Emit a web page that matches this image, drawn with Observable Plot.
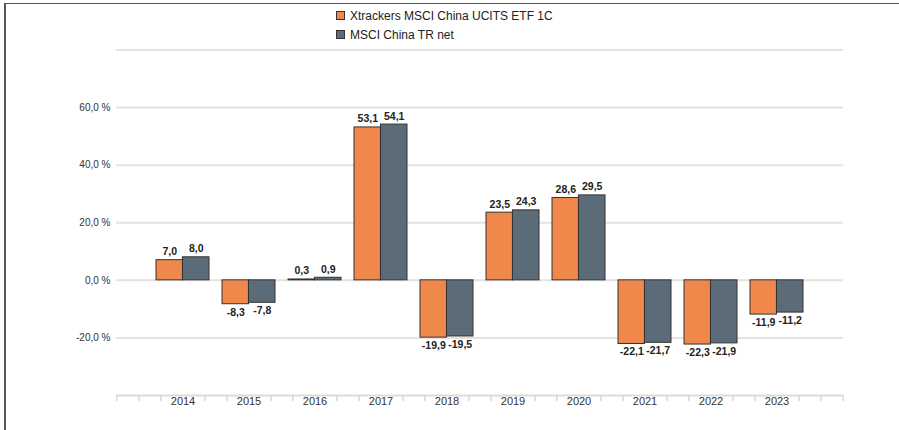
<!DOCTYPE html>
<html><head><meta charset="utf-8">
<script src="https://cdn.jsdelivr.net/npm/d3@7"></script>
<script src="https://cdn.jsdelivr.net/npm/@observablehq/plot@0.6"></script>
<style>
html,body{margin:0;padding:0;background:#fff;}
#wrap{position:relative;width:899px;height:430px;overflow:hidden;font-family:"Liberation Sans",Arial,sans-serif;}
#frame{position:absolute;left:4px;top:3px;right:-10px;bottom:-10px;border-left:2px solid #555;border-top:1px solid #555;}
#legend{position:absolute;left:336px;top:6px;font-size:12px;color:#222;}
.item{display:flex;align-items:center;height:19px;white-space:nowrap;}
.sw{width:9px;height:9px;border:1px solid #333;margin-right:5px;box-sizing:border-box;}
#chart{position:absolute;left:0;top:0;}
</style></head><body>
<div id="wrap"><div id="frame"></div><div id="chart"></div><div id="legend"></div></div>
<script>
const years = ["2014","2015","2016","2017","2018","2019","2020","2021","2022","2023"];
const etfValues = [7.0,-8.3,0.3,53.1,-19.9,23.5,28.6,-22.1,-22.3,-11.9];
const indexValues = [8.0,-7.8,0.9,54.1,-19.5,24.3,29.5,-21.7,-21.9,-11.2];
const seriesNames = ["Xtrackers MSCI China UCITS ETF 1C","MSCI China TR net"];
const seriesColors = ["#f0874b","#5c6b78"];
const yTickValues = [60,40,20,0,-20];
const gridValues = [80,60,40,20,0,-20];
const yDomain = [-40,80];

const W = 899, H = 430, mL = 116, mR = 56, mT = 49.5, mB = 35;
const pIn = 0.2, pOut = 0.6;
const step = (W - mL - mR) / (years.length - pIn + 2 * pOut);
const half = step * (1 - pIn) / 2;

const etf = years.map((year, i) => ({year, value: etfValues[i]}));
const idx = years.map((year, i) => ({year, value: indexValues[i]}));
const fmt = v => v.toFixed(1).replace(".", ",");

function labels(data, dx) {
  const common = {x: "year", y: "value", text: d => fmt(d.value), dx, fontSize: 10.5, fontWeight: "bold", fill: "#222"};
  return [
    Plot.text(data.filter(d => d.value >= 0), {...common, lineAnchor: "bottom", dy: -5}),
    Plot.text(data.filter(d => d.value < 0), {...common, lineAnchor: "top", dy: 4})
  ];
}

const tickDepth = 6 * (yDomain[1] - yDomain[0]) / (H - mT - mB);
const tickOpts = dx => ({x: d => d, y1: yDomain[0], y2: yDomain[0] - tickDepth, dx, stroke: "#dcd8d0", strokeWidth: 1.5});

const chart = Plot.plot({
  width: W, height: H,
  marginLeft: mL, marginRight: mR, marginTop: mT, marginBottom: mB,
  style: {fontFamily: "'Liberation Sans', Arial, sans-serif", background: "transparent"},
  x: {type: "band", domain: years, paddingInner: pIn, paddingOuter: pOut, axis: null},
  y: {domain: yDomain, axis: null},
  marks: [
    Plot.ruleY(gridValues, {stroke: "#e5e2dd", strokeWidth: 2}),
    Plot.ruleY([yDomain[0]], {stroke: "#e0dcd4", strokeWidth: 2}),
    Plot.ruleX(years, tickOpts(-step / 3)),
    Plot.ruleX(years, tickOpts(step / 3)),
    Plot.ruleX([years[0]], tickOpts(-2 * step / 3)),
    Plot.ruleX([years[0]], tickOpts(-step)),
    Plot.ruleX([years[years.length - 1]], tickOpts(2 * step / 3)),
    Plot.ruleX([years[years.length - 1]], tickOpts(step)),
    Plot.barY(etf, {x: "year", y: "value", fill: seriesColors[0], stroke: "#333", strokeWidth: 1, insetRight: half}),
    Plot.barY(idx, {x: "year", y: "value", fill: seriesColors[1], stroke: "#333", strokeWidth: 1, insetLeft: half}),
    ...labels(etf, -half / 2),
    ...labels(idx, half / 2),
    Plot.axisY({ticks: yTickValues, tickSize: 0, tickPadding: 6, tickFormat: d => fmt(d) + " %", fontSize: 10, color: "#333", label: null}),
    Plot.axisX({tickSize: 0, tickPadding: 2, fontSize: 11, color: "#333", label: null})
  ]
});
document.getElementById("chart").appendChild(chart);

const legend = document.getElementById("legend");
seriesNames.forEach((name, i) => {
  const item = document.createElement("div");
  item.className = "item";
  const sw = document.createElement("span");
  sw.className = "sw";
  sw.style.background = seriesColors[i];
  item.appendChild(sw);
  item.appendChild(document.createTextNode(name));
  legend.appendChild(item);
});
</script>
</body></html>
